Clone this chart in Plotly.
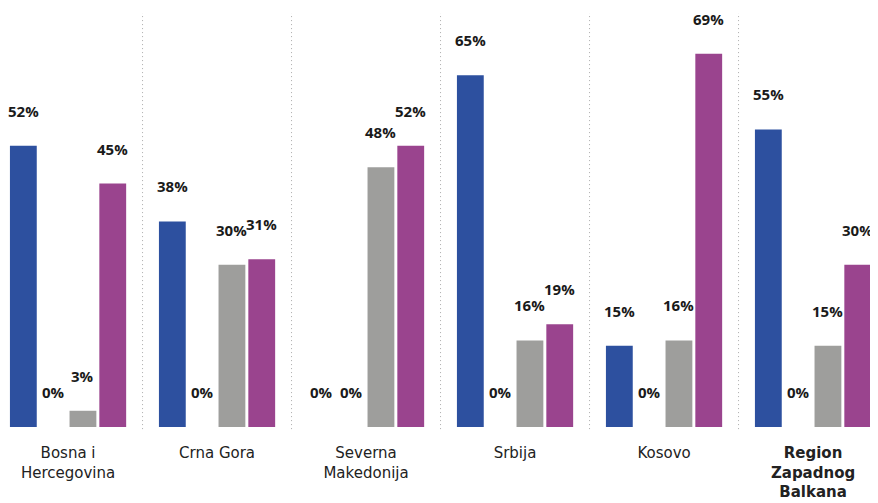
import plotly.graph_objects as go

# ── Data ───────────────────────────────────────────────────────────────────────
categories = [
    "Bosna i<br>Hercegovina",
    "Crna Gora",
    "Severna<br>Makedonija",
    "Srbija",
    "Kosovo",
    "<b>Region<br>Zapadnog<br>Balkana</b>",
]
series_a = [52, 38, 0, 65, 15, 55]   # blue
series_b = [0, 0, 0, 0, 0, 0]        # empty
series_c = [3, 30, 48, 16, 16, 15]   # gray
series_d = [45, 31, 52, 19, 69, 30]  # purple

# ── Theme ──────────────────────────────────────────────────────────────────────
_BLUE   = "#2D509F"
_EMPTY  = "#C9C9E6"
_GRAY   = "#9E9E9C"
_PURPLE = "#9A448E"
_TEXT   = "#1A1A1A"
_FONT   = "'DejaVu Sans', Arial, sans-serif"
_LBL    = "'Open Sans', Arial, sans-serif"

series  = [series_a, series_b, series_c, series_d]
colors  = [_BLUE, _EMPTY, _GRAY, _PURPLE]
offsets = [-0.3, -0.1, 0.1, 0.3]
bar_w   = 0.18

fig = go.Figure()
n = len(categories)
for vals, col, off in zip(series, colors, offsets):
    xs = [i + off for i in range(n)]
    fig.add_trace(go.Bar(
        x=xs, y=vals, width=bar_w,
        marker=dict(color=col, line=dict(width=0)),
        showlegend=False, hoverinfo="skip",
    ))
    for x, v in zip(xs, vals):
        fig.add_annotation(
            x=x, y=v, text=f"<b>{v}%</b>", showarrow=False,
            yshift=35, font=dict(size=15, color=_TEXT, family=_LBL),
        )

# dotted separators between groups
for i in range(n - 1):
    fig.add_shape(
        type="line", xref="x", yref="paper",
        x0=i + 0.5, x1=i + 0.5, y0=-0.005, y1=0.988,
        line=dict(color="#ABABAB", width=1, dash="1px,3px"),
    )

fig.update_layout(
    width=870, height=496,
    paper_bgcolor="white", plot_bgcolor="white",
    margin=dict(l=0, r=0, t=0, b=77),
    barmode="overlay",
    font=dict(family=_FONT, color=_TEXT, size=15),
    xaxis=dict(
        range=[-0.403, 5.436],
        tickvals=list(range(n)), ticktext=categories,
        showgrid=False, zeroline=False, showline=False,
        ticks="", ticklabelstandoff=15,
        tickfont=dict(size=15, color="#222222", family=_FONT),
    ),
    yaxis=dict(
        range=[0, 77.45], visible=False,
        showgrid=False, zeroline=False,
    ),
)

fig.write_html("out.html")
